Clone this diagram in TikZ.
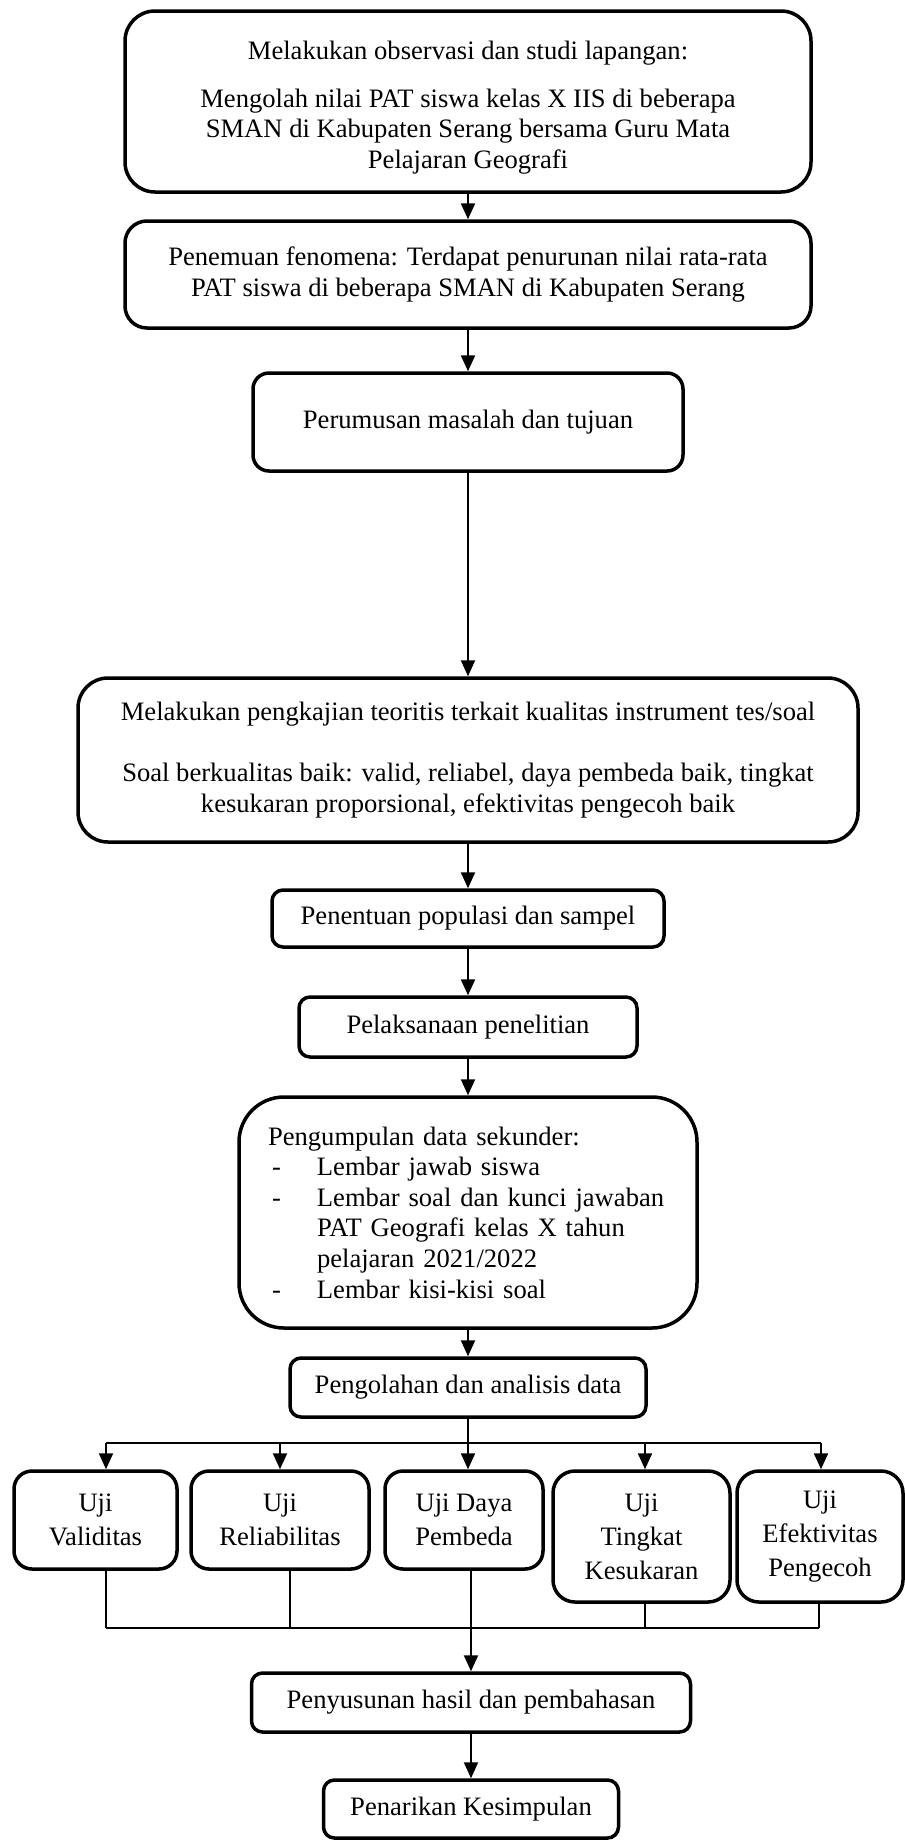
\documentclass[tikz,border=0pt]{standalone}
\usepackage{fontspec}
\setmainfont{Liberation Serif}
\usetikzlibrary{arrows.meta}
\begin{document}
\begin{tikzpicture}[x=1pt,y=-1pt,
  txt/.style={inner sep=0pt, align=center, font=\fontsize{26.6}{30.6}\selectfont},
  box/.style={txt, draw=black, line width=3.5pt, rounded corners=#1},
  box/.default=12pt,
  kid/.style={box=#1, font=\fontsize{26.6}{34}\selectfont},
  kid/.default=18pt,
  arr/.style={line width=2.2pt, -{Triangle[length=16pt,width=14pt]}},
  thinln/.style={line width=1.2pt}]
\fill[white] (0,0) rectangle (905,1840);
\useasboundingbox (0,0) rectangle (905,1840);
\hyphenpenalty=10000

\node[box=30pt, minimum width=686pt, minimum height=181pt] (b1) at (468,101.5) {};
\node[txt] (b1t) at (468,107.5)
  {Melakukan observasi dan studi lapangan:\\[17pt]
   Mengolah nilai PAT siswa kelas X IIS di beberapa\\
   SMAN di Kabupaten Serang bersama Guru Mata\\
   Pelajaran Geografi};
\node[box=22pt, minimum width=686pt, minimum height=107pt] (b2) at (468,274.5)
  {Penemuan fenomena: Terdapat penurunan nilai rata-rata\\
   PAT siswa di beberapa SMAN di Kabupaten Serang};
\node[box=16pt, minimum width=430pt, minimum height=98pt] (b3) at (468,422)
  {Perumusan masalah dan tujuan};
\node[box=30pt, minimum width=780pt, minimum height=164pt] (b4) at (468,760)
  {Melakukan pengkajian teoritis terkait kualitas instrument tes/soal\\[30.6pt]
   Soal berkualitas baik: valid, reliabel, daya pembeda baik, tingkat\\
   kesukaran proporsional, efektivitas pengecoh baik};
\node[box=11pt, minimum width=392pt, minimum height=57pt] (b5) at (468,918.5)
  {Penentuan populasi dan sampel};
\node[box=11pt, minimum width=338pt, minimum height=60pt] (b6) at (468,1027)
  {Pelaksanaan penelitian};
\node[box=45pt, minimum width=458pt, minimum height=231pt, align=left, text width=400pt] (b7) at (468,1212.5)
  {Pengumpulan data sekunder:\\
   \makebox[49pt][l]{\hspace{4pt}-}Lembar jawab siswa\\
   \makebox[49pt][l]{\hspace{4pt}-}Lembar soal dan kunci jawaban\\
   \hspace*{49pt}PAT Geografi kelas X tahun\\
   \hspace*{49pt}pelajaran 2021/2022\\
   \makebox[49pt][l]{\hspace{4pt}-}Lembar kisi-kisi soal};
\node[box=11pt, minimum width=356pt, minimum height=59pt] (b8) at (468,1387.5)
  {Pengolahan dan analisis data};

\node[kid, minimum width=163pt, minimum height=98pt] (c1) at (95.5,1520) {Uji\\Validitas};
\node[kid, minimum width=178pt, minimum height=98pt] (c2) at (280,1520) {Uji\\Reliabilitas};
\node[kid, minimum width=158pt, minimum height=98pt] (c3) at (464,1520) {Uji Daya\\Pembeda};
\node[kid=22pt, minimum width=177pt, minimum height=131pt] (c4) at (641.5,1536.5) {Uji\\Tingkat\\Kesukaran};
\node[kid=22pt, minimum width=166pt, minimum height=131pt] (c5) at (820,1536.5) {Uji\\Efektivitas\\Pengecoh};

\node[box=11pt, minimum width=439pt, minimum height=59pt] (b9) at (471,1702.5)
  {Penyusunan hasil dan pembahasan};
\node[box=11pt, minimum width=295pt, minimum height=58pt] (b10) at (471,1809)
  {Penarikan Kesimpulan};

\draw[arr] (b1.south) -- (b2.north);
\draw[arr] (b2.south) -- (b3.north);
\draw[arr] (b3.south) -- (b4.north);
\draw[arr] (b4.south) -- (b5.north);
\draw[arr] (b5.south) -- (b6.north);
\draw[arr] (b6.south) -- (b7.north);
\draw[arr] (b7.south) -- (b8.north);

\coordinate (t0) at (468,1443);
\coordinate (j1) at (106,1443);
\coordinate (j2) at (280,1443);
\coordinate (j3) at (468,1443);
\coordinate (j4) at (645,1443);
\coordinate (j5) at (821,1443);
\draw[thinln] (b8.south) -- (t0);
\draw[thinln] (j1) -- (j5);
\draw[arr] (j1) -- (j1 |- c1.north);
\draw[arr] (j2) -- (j2 |- c2.north);
\draw[arr] (j3) -- (j3 |- c3.north);
\draw[arr] (j4) -- (j4 |- c4.north);
\draw[arr] (j5) -- (j5 |- c5.north);

\coordinate (k1) at (106,1628);
\coordinate (k2) at (290,1628);
\coordinate (k3) at (471,1628);
\coordinate (k4) at (645,1628);
\coordinate (k5) at (819,1628);
\draw[thinln] (k1 |- c1.south) -- (k1);
\draw[thinln] (k2 |- c2.south) -- (k2);
\draw[thinln] (k3 |- c3.south) -- (k3);
\draw[thinln] (k4 |- c4.south) -- (k4);
\draw[thinln] (k5 |- c5.south) -- (k5);
\draw[thinln] (k1) -- (k5);
\draw[arr] (k3) -- (b9.north);
\draw[arr] (b9.south) -- (b10.north);
\end{tikzpicture}
\end{document}
